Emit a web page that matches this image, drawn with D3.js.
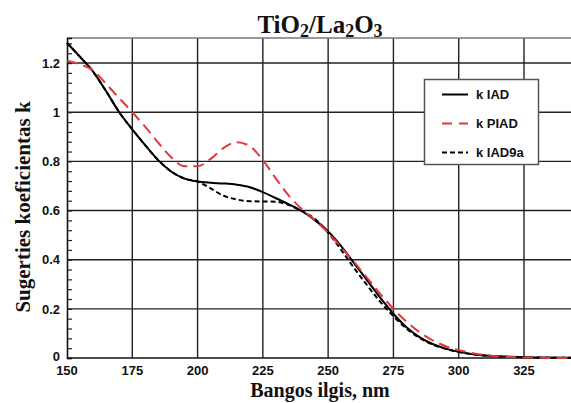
<!DOCTYPE html>
<head>
	<meta charset="utf-8">
	<script src="https://d3js.org/d3.v7.min.js"></script>
	<style>
		body { margin: 0; background: #fff; }
	</style>
</head>
<body>
	<script type="text/javascript">

		var w = 571;
		var h = 403;

		// wavelength, nm
		var wl = [150,155,160,165,170,175,180,185,190,195,200,205,210,215,220,225,230,235,240,245,250,255,260,265,270,275,280,285,290,295,300,310,320,330,343];

		var kIAD = [1.282,1.225,1.165,1.085,1.0,0.93,0.865,0.804,0.758,0.73,0.718,0.713,0.71,0.705,0.695,0.675,0.65,0.625,0.597,0.56,0.515,0.455,0.385,0.315,0.245,0.18,0.125,0.085,0.057,0.038,0.025,0.01,0.005,0.002,0.001];

		var kPIAD = [1.21,1.195,1.17,1.115,1.057,1.0,0.94,0.875,0.816,0.78,0.78,0.81,0.855,0.878,0.862,0.805,0.73,0.66,0.605,0.56,0.51,0.45,0.39,0.325,0.26,0.2,0.148,0.105,0.072,0.048,0.032,0.012,0.004,0.001,0.0];

		var kIAD9a = [1.282,1.225,1.165,1.085,1.0,0.93,0.865,0.804,0.758,0.73,0.718,0.69,0.66,0.645,0.638,0.637,0.636,0.622,0.598,0.565,0.51,0.44,0.365,0.295,0.228,0.17,0.12,0.082,0.055,0.037,0.024,0.01,0.004,0.002,0.001];

		var xTicks = [150,175,200,225,250,275,300,325];
		var yTicks = [0,0.2,0.4,0.6,0.8,1,1.2];

		var series = [
			{name: "k IAD", values: kIAD, color: "#000", dash: null, legDash: null},
			{name: "k PIAD", values: kPIAD, color: "#e3373c", dash: "11,6", legDash: "10,7"},
			{name: "k IAD9a", values: kIAD9a, color: "#000", dash: "5,3", legDash: "5,3"}
		];

		var svg = d3.select("body")
				.append("svg")
				.attr("width", w)
				.attr("height", h);

		var pLeft = 67, pRight = 571, pTop = 38, pBottom = 358;

		var xScale = d3.scaleLinear()
					.domain([150, 343])
					.range([pLeft, pRight]);

		var yScale = d3.scaleLinear()
					.domain([0, 1.302])
					.range([pBottom, pTop]);

		// grid
		svg.selectAll(".vgrid")
			.data(xTicks.slice(1))
			.enter()
			.append("line")
			.attr("x1", function(d){ return xScale(d); })
			.attr("x2", function(d){ return xScale(d); })
			.attr("y1", pTop)
			.attr("y2", pBottom)
			.attr("stroke", "#222")
			.attr("stroke-width", 1.4);

		svg.selectAll(".hgrid")
			.data(yTicks.slice(1))
			.enter()
			.append("line")
			.attr("x1", pLeft)
			.attr("x2", pRight)
			.attr("y1", function(d){ return yScale(d); })
			.attr("y2", function(d){ return yScale(d); })
			.attr("stroke", "#222")
			.attr("stroke-width", 1.4);

		// top frame line
		svg.append("line")
			.attr("x1", pLeft).attr("x2", pRight)
			.attr("y1", pTop).attr("y2", pTop)
			.attr("stroke", "#777")
			.attr("stroke-width", 1.5);

		// y axis with inward minor ticks
		var yAxis = d3.axisLeft(yScale)
					.tickValues(d3.range(0, 1.30, 0.04))
					.tickSize(-5)
					.tickFormat("");
		svg.append("g")
			.attr("transform", "translate(" + pLeft + ",0)")
			.call(yAxis)
			.call(function(g){
				g.select(".domain").attr("stroke", "#111").attr("stroke-width", 1.6);
				g.selectAll(".tick line").attr("stroke", "#222").attr("stroke-width", 1.2);
			});

		svg.selectAll(".ylab")
			.data(yTicks)
			.enter()
			.append("text")
			.attr("x", 60)
			.attr("y", function(d){ return d == 0 ? yScale(d) - 2 : yScale(d); })
			.attr("dy", "0.36em")
			.attr("text-anchor", "end")
			.attr("font-family", "Liberation Sans, Arial, sans-serif")
			.attr("font-weight", "bold")
			.attr("font-size", 13)
			.attr("fill", "#111")
			.text(function(d){ return d3.format("")(d); });

		// x axis
		svg.append("line")
			.attr("x1", pLeft).attr("x2", pRight)
			.attr("y1", pBottom).attr("y2", pBottom)
			.attr("stroke", "#111")
			.attr("stroke-width", 1.6);

		svg.selectAll(".xlab")
			.data(xTicks)
			.enter()
			.append("text")
			.attr("x", function(d){ return xScale(d); })
			.attr("y", 375)
			.attr("text-anchor", "middle")
			.attr("font-family", "Liberation Sans, Arial, sans-serif")
			.attr("font-weight", "bold")
			.attr("font-size", 13)
			.attr("fill", "#111")
			.text(function(d){ return d; });

		// curves
		var line = d3.line()
				.x(function(d, i){ return xScale(wl[i]); })
				.y(function(d){ return yScale(d); })
				.curve(d3.curveMonotoneX);

		svg.selectAll(".curve")
			.data([series[0], series[2], series[1]])
			.enter()
			.append("path")
			.attr("d", function(s){ return line(s.values); })
			.attr("fill", "none")
			.attr("stroke", function(s){ return s.color; })
			.attr("stroke-width", 2)
			.attr("stroke-dasharray", function(s){ return s.dash; });

		// legend
		var legend = svg.append("g");
		legend.append("rect")
			.attr("x", 424.5)
			.attr("y", 79.5)
			.attr("width", 114)
			.attr("height", 85)
			.attr("fill", "#fff")
			.attr("stroke", "#555")
			.attr("stroke-width", 1.5);

		var items = legend.selectAll(".item")
				.data(series)
				.enter()
				.append("g")
				.attr("transform", function(d, i){ return "translate(0," + (94.5 + i * 29) + ")"; });

		items.append("line")
			.attr("x1", 442)
			.attr("x2", 468)
			.attr("stroke", function(d){ return d.color; })
			.attr("stroke-width", 2)
			.attr("stroke-dasharray", function(d){ return d.legDash; });

		items.append("text")
			.attr("x", 476)
			.attr("y", 4)
			.attr("font-family", "Liberation Sans, Arial, sans-serif")
			.attr("font-weight", "bold")
			.attr("font-size", 13)
			.attr("fill", "#111")
			.text(function(d){ return d.name; });

		// titles
		var title = svg.append("text")
			.attr("x", 320)
			.attr("y", 33)
			.attr("text-anchor", "middle")
			.attr("font-family", "Liberation Serif, Times New Roman, serif")
			.attr("font-weight", "bold")
			.attr("font-size", 25)
			.attr("fill", "#111");
		var parts = [["TiO", 0], ["2", 1], ["/La", 0], ["2", 1], ["O", 0], ["3", 1]];
		parts.forEach(function(p, i){
			var t = title.append("tspan").text(p[0]);
			if (p[1]) t.attr("font-size", 18).attr("dy", 4);
			else if (i > 0) t.attr("dy", -4);
		});

		svg.append("text")
			.attr("x", 320)
			.attr("y", 397)
			.attr("text-anchor", "middle")
			.attr("font-family", "Liberation Serif, Times New Roman, serif")
			.attr("font-weight", "bold")
			.attr("font-size", 20)
			.attr("fill", "#111")
			.text("Bangos ilgis, nm");

		svg.append("text")
			.attr("transform", "translate(30,207) rotate(-90)")
			.attr("text-anchor", "middle")
			.attr("font-family", "Liberation Serif, Times New Roman, serif")
			.attr("font-weight", "bold")
			.attr("font-size", 21)
			.attr("fill", "#111")
			.text("Sugerties koeficientas k");

	</script>
</body>
